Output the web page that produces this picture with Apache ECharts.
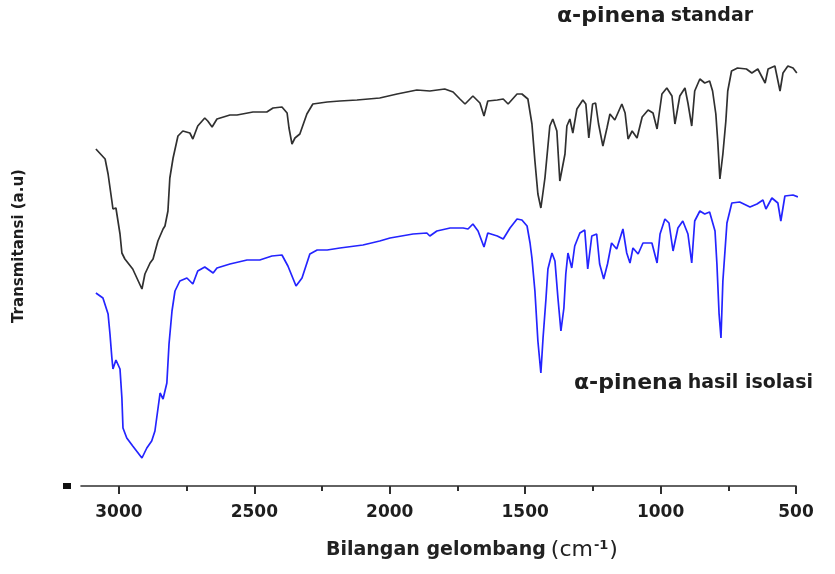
<!DOCTYPE html>
<html>
<head>
<meta charset="utf-8">
<title>FTIR α-pinena</title>
<script src="https://cdn.jsdelivr.net/npm/echarts@6/dist/echarts.min.js"></script>
<style>
  html, body { margin: 0; padding: 0; background: #ffffff; }
  #chart { width: 835px; height: 574px; }
</style>
</head>
<body>
<div id="chart"></div>
<script>
// FTIR spectrum of alpha-pinene: reference standard (upper) and isolated sample (lower)

// Wavenumbers (cm-1) and transmittance (a.u.) of the standard
const standarWavenumber = [3085, 3051, 3040, 3026, 3022, 3011, 2996, 2989, 2978, 2949, 2915, 2904, 2885, 2874, 2856, 2837, 2830, 2819, 2812, 2800, 2782, 2764, 2738, 2727, 2709, 2683, 2672, 2656, 2638, 2590, 2564, 2505, 2454, 2431, 2398, 2379, 2372, 2361, 2350, 2332, 2306, 2284, 2231, 2184, 2121, 2037, 1973, 1900, 1852, 1797, 1766, 1741, 1722, 1693, 1667, 1652, 1638, 1603, 1581, 1563, 1530, 1512, 1490, 1475, 1464, 1453, 1442, 1427, 1409, 1398, 1383, 1372, 1353, 1346, 1335, 1324, 1309, 1287, 1276, 1265, 1251, 1240, 1229, 1213, 1198, 1187, 1169, 1143, 1131, 1120, 1105, 1087, 1068, 1046, 1028, 1013, 995, 977, 958, 947, 929, 910, 899, 885, 874, 855, 837, 819, 808, 796, 789, 781, 770, 759, 752, 738, 716, 683, 663, 641, 614, 603, 578, 559, 548, 530, 511, 497];
const standarT = [67.4, 65.4, 62.4, 57, 55.4, 55.6, 50.4, 46.6, 45.4, 43.4, 39.4, 42.4, 44.6, 45.4, 49, 51.4, 52, 55, 61.6, 65.6, 70, 71, 70.6, 69.4, 72, 73.6, 73, 71.8, 73.4, 74.2, 74.2, 74.8, 74.8, 75.6, 75.8, 74.6, 71.6, 68.4, 69.6, 70.4, 74.4, 76.4, 76.8, 77, 77.2, 77.6, 78.4, 79.2, 79, 79.4, 78.8, 77.4, 76.4, 78, 76.6, 74, 77, 77.2, 77.4, 76.4, 78.4, 78.4, 77.4, 72.4, 65, 58.4, 55.6, 61.6, 72, 73.4, 71, 61, 66.4, 72, 73.4, 70.6, 75.4, 77.2, 76.4, 69.6, 76.4, 76.6, 72.4, 68, 71.6, 74.4, 73.2, 76.4, 74.6, 69.4, 71, 69.6, 73.8, 75.2, 74.6, 71.4, 78.4, 79.6, 78, 72.4, 78, 79.6, 76.6, 72, 79, 81.4, 80.6, 81, 79, 74.4, 69, 61.4, 66.4, 73, 79, 83, 83.6, 83.4, 82.6, 83.4, 80.6, 83.4, 84, 79, 82.6, 84, 83.6, 82.6];

// Wavenumbers (cm-1) and transmittance (a.u.) of the isolated sample
const isolasiWavenumber = [3085, 3059, 3040, 3033, 3026, 3022, 3011, 2996, 2989, 2985, 2971, 2949, 2915, 2897, 2879, 2867, 2848, 2837, 2823, 2815, 2804, 2793, 2775, 2749, 2727, 2709, 2683, 2652, 2638, 2590, 2527, 2480, 2435, 2398, 2376, 2346, 2324, 2295, 2268, 2231, 2184, 2099, 2037, 1999, 1914, 1863, 1852, 1826, 1777, 1729, 1711, 1693, 1674, 1652, 1638, 1603, 1581, 1556, 1530, 1512, 1493, 1482, 1475, 1464, 1453, 1442, 1434, 1423, 1416, 1401, 1390, 1379, 1368, 1357, 1350, 1342, 1328, 1317, 1298, 1280, 1269, 1254, 1236, 1225, 1210, 1196, 1181, 1162, 1139, 1125, 1113, 1102, 1083, 1065, 1032, 1013, 1002, 984, 969, 954, 936, 918, 899, 885, 874, 855, 837, 819, 799, 792, 784, 777, 770, 755, 737, 708, 670, 644, 622, 611, 589, 567, 556, 541, 511, 493];
const isolasiT = [38.6, 37.6, 34.4, 30.4, 25.6, 23.4, 25.2, 23.4, 17.6, 11.6, 9.6, 8, 5.6, 7.6, 9, 11, 18.6, 17.4, 20.6, 28.4, 35, 39, 41, 41.6, 40.4, 43, 43.8, 42.6, 43.6, 44.4, 45.2, 45.2, 46, 46.2, 44, 40, 41.6, 46.4, 47.2, 47.2, 47.6, 48.2, 49, 49.6, 50.4, 50.6, 50, 51, 51.6, 51.6, 51.4, 52.4, 51, 47.8, 50.6, 50, 49.4, 51.6, 53.4, 53.2, 52, 48.6, 45.6, 39, 29, 22.6, 29.6, 37.6, 43.4, 46.6, 45, 37.6, 31, 35.6, 42.4, 46.6, 43.6, 48, 50.6, 51.2, 43.4, 50, 50.4, 44.4, 41.4, 44.4, 48.6, 47.4, 51.4, 46.6, 44.6, 47.6, 46.4, 48.6, 48.6, 44.6, 50.4, 53.4, 52.6, 47, 51.6, 53, 50.4, 44.6, 53, 55, 54.4, 54.8, 51, 44.4, 34.4, 29.6, 41, 52.6, 56.6, 56.8, 55.8, 56.4, 57.2, 55.4, 57.6, 56.6, 53, 58, 58.2, 57.8];

// Labelled ticks and the unlabelled ticks between them
const xTickLabels = [3000, 2500, 2000, 1500, 1000, 500];
const xMinorTicks = [2750, 2250, 1750, 1250, 750];

const seriesLabels = ['α-pinena standar', 'α-pinena hasil isolasi'];
const xAxisTitle = 'Bilangan gelombang';
const yAxisTitle = 'Transmitansi (a.u)';

const toPairs = (xs, ys) => xs.map((x, i) => [x, ys[i]]);

const FONT = "'DejaVu Sans', sans-serif";
const chart = echarts.init(document.getElementById('chart'), null, { renderer: 'canvas' });

const axisColor = '#2f2f2f';
const xBase = {
  type: 'value',
  inverse: true,
  min: 500,
  max: 3140,
  position: 'bottom',
  splitLine: { show: false }
};

chart.setOption({
  animation: false,
  backgroundColor: '#ffffff',
  grid: { left: 81, right: 39, top: 36, bottom: 88 },
  title: [
    {
      text: '{a|α-pinena} {b|standar}',
      left: 557, top: 5, padding: 0,
      textStyle: {
        rich: {
          a: { fontFamily: FONT, fontWeight: 'bold', fontSize: 22, color: '#1e1e1e' },
          b: { fontFamily: FONT, fontWeight: 'bold', fontSize: 19, color: '#1e1e1e' }
        }
      }
    },
    {
      text: '{a|α-pinena} {b|hasil isolasi}',
      left: 574, top: 372, padding: 0,
      textStyle: {
        rich: {
          a: { fontFamily: FONT, fontWeight: 'bold', fontSize: 22, color: '#1e1e1e' },
          b: { fontFamily: FONT, fontWeight: 'bold', fontSize: 19, color: '#1e1e1e' }
        }
      }
    },
    {
      text: '{a|' + xAxisTitle + '} {r|(cm}{s|-1}{r|)}',
      left: 326, top: 539, padding: 0,
      textStyle: {
        rich: {
          a: { fontFamily: FONT, fontWeight: 'bold', fontSize: 19, color: '#222222' },
          r: { fontFamily: FONT, fontWeight: 'normal', fontSize: 22, color: '#222222' },
          s: { fontFamily: FONT, fontWeight: 'bold', fontSize: 13, color: '#222222', verticalAlign: 'top', padding: [0, 1, 10, 1] }
        }
      }
    }
  ],
  xAxis: [
    Object.assign({}, xBase, {
      axisLine: { show: true, lineStyle: { color: axisColor, width: 1.6 } },
      axisTick: { show: true, inside: false, length: 8, customValues: xTickLabels, lineStyle: { color: axisColor, width: 2 } },
      axisLabel: {
        show: true, customValues: xTickLabels, margin: 18,
        formatter: (v) => String(v),
        fontFamily: FONT, fontWeight: 'bold', fontSize: 17, color: '#1e1e1e'
      }
    }),
    Object.assign({}, xBase, {
      axisLine: { show: false },
      axisTick: { show: true, inside: false, length: 5, customValues: xMinorTicks, lineStyle: { color: axisColor, width: 2 } },
      axisLabel: { show: false }
    })
  ],
  yAxis: {
    type: 'value',
    min: 0,
    max: 90,
    name: yAxisTitle,
    nameLocation: 'middle',
    nameRotate: 90,
    nameGap: 54,
    nameTextStyle: { fontFamily: FONT, fontWeight: 'bold', fontSize: 15, color: '#1e1e1e', padding: [0, 0, 0, 30] },
    axisLine: { show: false },
    axisTick: { show: false },
    axisLabel: { show: false },
    splitLine: { show: false }
  },
  graphic: [
    { type: 'rect', shape: { x: 63, y: 483, width: 8, height: 6 }, style: { fill: '#111111' } }
  ],
  series: [
    {
      name: seriesLabels[0],
      type: 'line',
      xAxisIndex: 0,
      data: toPairs(standarWavenumber, standarT),
      showSymbol: false,
      symbol: 'none',
      lineStyle: { color: '#303030', width: 1.7 },
      z: 3
    },
    {
      name: seriesLabels[1],
      type: 'line',
      xAxisIndex: 0,
      data: toPairs(isolasiWavenumber, isolasiT),
      showSymbol: false,
      symbol: 'none',
      lineStyle: { color: '#2424ff', width: 1.7 },
      z: 3
    }
  ]
});
</script>
</body>
</html>
